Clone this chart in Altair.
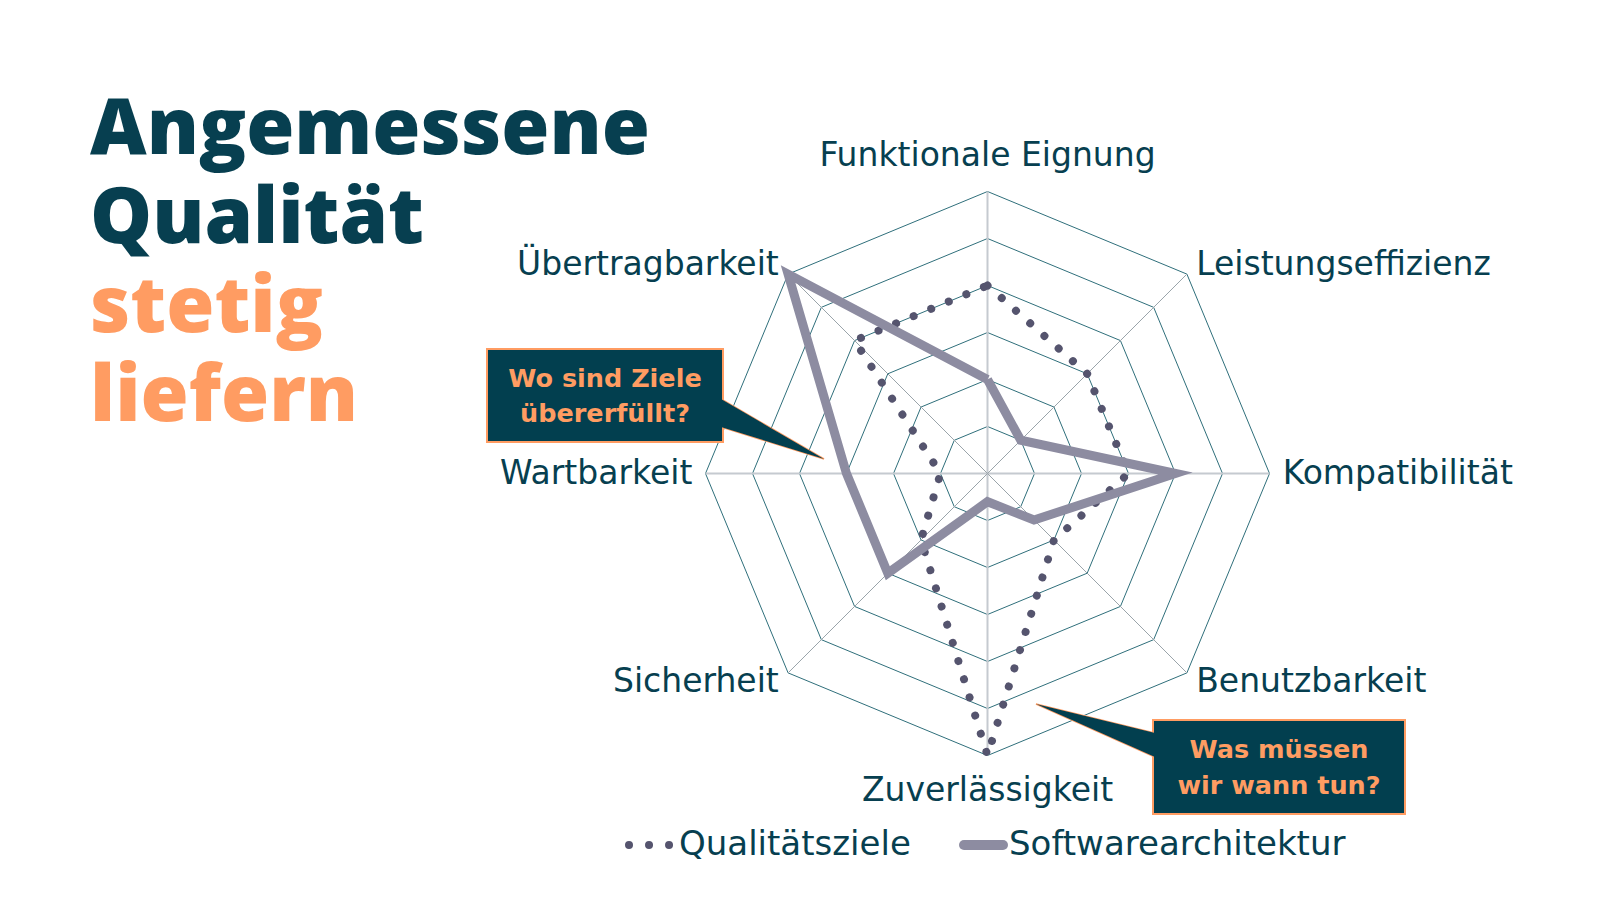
import math
import altair as alt
import pandas as pd

# ---------------- data ----------------
dimensions = [
    "Funktionale Eignung", "Leistungseffizienz", "Kompatibilität", "Benutzbarkeit",
    "Zuverlässigkeit", "Sicherheit", "Wartbarkeit", "Übertragbarkeit",
]
qualitaetsziele = [4, 3, 3, 2, 6, 2, 1, 4]
softwarearchitektur = [2, 1, 4, 1.4, 0.6, 3, 3, 6]
series_names = ["Qualitätsziele", "Softwarearchitektur"]
ring_levels = [1, 2, 3, 4, 5, 6]
title_lines = ["Angemessene", "Qualität", "stetig", "liefern"]
callout_top = ["Wo sind Ziele", "übererfüllt?"]
callout_bottom = ["Was müssen", "wir wann tun?"]

# ---------------- layout / style ----------------
W, H = 1584, 880
M = 8
CX, CY = 987.5, 473.5      # page pixel of the radar centre
UNIT = 47.0                # pixels per value unit
FONT = "DejaVu Sans"
TITLE_FONT = "Open Sans"
DARK = "#073f50"
ORANGE = "#ff9c62"
BOXFILL = "#023f4f"
C_Q = "#55546e"
C_S = "#8d8ca1"


def ux(px):
    return (px - CX) / UNIT


def uy(py):
    return (CY - py) / UNIT


xs = alt.Scale(domain=[ux(M), ux(M + W)], nice=False, zero=False)
ys = alt.Scale(domain=[uy(M + H), uy(M)], nice=False, zero=False)


def X(f):
    return alt.X(f, type="quantitative", scale=xs, axis=None)


def Y(f):
    return alt.Y(f, type="quantitative", scale=ys, axis=None)


POLAR_X = "datum.value * sin(datum.k * PI / 4)"
POLAR_Y = "datum.value * cos(datum.k * PI / 4)"

# grid rings
grid_df = pd.DataFrame(
    [{"ring": r, "k": k, "value": r} for r in ring_levels for k in range(9)]
)
rings = (
    alt.Chart(grid_df)
    .mark_line(color="#2f6f7b", strokeWidth=1)
    .transform_calculate(x=POLAR_X, y=POLAR_Y)
    .encode(x=X("x"), y=Y("y"), detail="ring:N", order="k:Q")
)

# spokes
spoke_df = pd.DataFrame({"k": list(range(8)), "value": [max(ring_levels)] * 8})
spokes_base = alt.Chart(spoke_df).transform_calculate(
    x=POLAR_X, y=POLAR_Y, x0="0", y0="0", card="datum.k % 2 == 0"
)
spokes_card = (
    spokes_base.transform_filter("datum.card")
    .mark_rule(color="#c5cad0", strokeWidth=2)
    .encode(x=X("x0"), y=Y("y0"), x2="x:Q", y2="y:Q")
)
spokes_diag = (
    spokes_base.transform_filter("!datum.card")
    .mark_rule(color="#9aa4aa", strokeWidth=1)
    .encode(x=X("x0"), y=Y("y0"), x2="x:Q", y2="y:Q")
)

# series
def series_df(name, vals):
    return pd.DataFrame(
        [{"series": name, "k": k, "value": vals[k % len(vals)]} for k in range(len(vals) + 1)]
    )


q_line = (
    alt.Chart(series_df(series_names[0], qualitaetsziele))
    .mark_line(color=C_Q, strokeWidth=8, strokeDash=[0.01, 19], strokeCap="round")
    .transform_calculate(x=POLAR_X, y=POLAR_Y)
    .encode(x=X("x"), y=Y("y"), order="k:Q")
)
s_line = (
    alt.Chart(series_df(series_names[1], softwarearchitektur))
    .mark_line(color=C_S, strokeWidth=9, strokeJoin="miter", strokeMiterLimit=12)
    .transform_calculate(x=POLAR_X, y=POLAR_Y)
    .encode(x=X("x"), y=Y("y"), order="k:Q")
)

# axis labels
lab_df = pd.DataFrame({"label": dimensions, "k": list(range(len(dimensions)))})
lab_base = alt.Chart(lab_df).transform_calculate(
    value="datum.k % 4 == 0 ? 6.75 : 6.28", x=POLAR_X, y=POLAR_Y
)
lab_kw = dict(font=FONT, fontSize=33, color=DARK, baseline="middle")
labels_l = lab_base.transform_filter("datum.k >= 1 && datum.k <= 3").mark_text(align="left", **lab_kw).encode(x=X("x"), y=Y("y"), text="label:N")
labels_r = lab_base.transform_filter("datum.k >= 5").mark_text(align="right", **lab_kw).encode(x=X("x"), y=Y("y"), text="label:N")
labels_c = lab_base.transform_filter("datum.k % 4 == 0").mark_text(align="center", **lab_kw).encode(x=X("x"), y=Y("y"), text="label:N")

# title
title_df = pd.DataFrame({
    "t": title_lines,
    "x": [ux(90)] * 4,
    "y": [uy(154 + i * 89) for i in range(4)],
    "c": [DARK, DARK, ORANGE, ORANGE],
})
title = (
    alt.Chart(title_df)
    .mark_text(font=TITLE_FONT, fontSize=78, fontWeight=800, align="left", baseline="alphabetic")
    .encode(x=X("x"), y=Y("y"), text="t:N", color=alt.Color("c:N", scale=None))
)

# callouts
def callout(box, tail, lines, text_y):
    x0, y0, x1, y1 = box
    box_df = pd.DataFrame({"x": [ux(x0)], "x2": [ux(x1)], "y": [uy(y0)], "y2": [uy(y1)]})
    tail_df = pd.DataFrame({
        "x": [ux(tail[0][0]), ux(tail[1][0])],
        "ya": [uy(tail[0][1]), uy(tail[1][1])],
        "yb": [uy(tail[0][2]), uy(tail[1][2])],
    })
    t = (
        alt.Chart(tail_df)
        .mark_area(color=BOXFILL, stroke=ORANGE, strokeWidth=1.5, opacity=1)
        .encode(x=X("x"), y=Y("ya"), y2="yb:Q")
    )
    b = (
        alt.Chart(box_df)
        .mark_rect(color=BOXFILL, stroke=ORANGE, strokeWidth=2)
        .encode(x=X("x"), x2="x2:Q", y=Y("y"), y2="y2:Q")
    )
    t2 = (
        alt.Chart(tail_df)
        .mark_area(color=BOXFILL, opacity=1)
        .encode(x=X("x"), y=Y("ya"), y2="yb:Q")
    )
    txt_df = pd.DataFrame({
        "t": lines,
        "x": [ux((x0 + x1) / 2)] * len(lines),
        "y": [uy(v) for v in text_y],
    })
    tx = (
        alt.Chart(txt_df)
        .mark_text(font=FONT, fontSize=25.5, fontWeight="bold", color=ORANGE, align="center", baseline="middle")
        .encode(x=X("x"), y=Y("y"), text="t:N")
    )
    return [t, b, t2, tx]


c1 = callout((487, 349, 723, 442), [(721, 399, 427), (824, 459, 459)], callout_top, [379, 414])
c2 = callout((1153, 720, 1405, 814), [(1036, 704, 704), (1155, 733, 757)], callout_bottom, [750, 786])

# legend
leg_y = uy(845)
legq_df = pd.DataFrame({"x": [ux(629), ux(670)], "y": [leg_y, leg_y]})
legs_df = pd.DataFrame({"x": [ux(964), ux(1003)], "y": [leg_y, leg_y]})
leg_q = alt.Chart(legq_df).mark_line(color=C_Q, strokeWidth=8, strokeDash=[0.01, 20], strokeCap="round").encode(x=X("x"), y=Y("y"))
leg_s = alt.Chart(legs_df).mark_line(color=C_S, strokeWidth=10, strokeCap="round").encode(x=X("x"), y=Y("y"))
legt_df = pd.DataFrame({"t": series_names, "x": [ux(679), ux(1009)], "y": [leg_y, leg_y]})
leg_t = (
    alt.Chart(legt_df)
    .mark_text(font=FONT, fontSize=34, color=DARK, align="left", baseline="middle")
    .encode(x=X("x"), y=Y("y"), text="t:N")
)

chart = alt.layer(
    rings, spokes_card, spokes_diag, q_line, s_line,
    labels_l, labels_r, labels_c, title,
    *c1, *c2, leg_q, leg_s, leg_t,
).properties(width=W, height=H, padding=0, background="white").configure_view(stroke=None)

chart.save("out.html", embed_options={"renderer": "svg", "actions": False})
